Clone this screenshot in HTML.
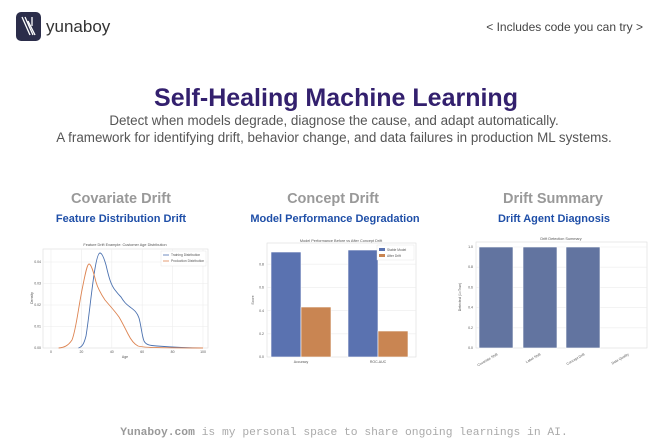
<!DOCTYPE html>
<html><head><meta charset="utf-8"><style>
html,body{margin:0;padding:0;background:#fff;}
body{width:670px;height:445px;overflow:hidden;position:relative;font-family:"Liberation Sans",sans-serif;}
</style></head><body>
<svg width="670" height="445" viewBox="0 0 670 445" xmlns="http://www.w3.org/2000/svg" style="position:absolute;left:0;top:0">
<rect x="16" y="12" width="25" height="29" rx="5" fill="#2b2d4a"/>
<g stroke="#fff" stroke-width="1.3">
<line x1="22" y1="17" x2="30" y2="35"/><line x1="25" y1="17" x2="33" y2="35"/><line x1="28" y1="21" x2="35" y2="35"/><line x1="32" y1="17" x2="32" y2="26"/>
</g>
<text x="46" y="32" font-size="17" fill="#333">yunaboy</text>
<text x="643" y="31" font-size="12" fill="#444" text-anchor="end">&lt; Includes code you can try &gt;</text>
<text x="336" y="106" font-size="25" font-weight="bold" fill="#33206e" text-anchor="middle">Self-Healing Machine Learning</text>
<text x="334" y="125" font-size="13.4" fill="#555" text-anchor="middle">Detect when models degrade, diagnose the cause, and adapt automatically.</text>
<text x="334" y="142" font-size="13.4" fill="#555" text-anchor="middle">A framework for identifying drift, behavior change, and data failures in production ML systems.</text>
<g font-size="14.5" font-weight="bold" fill="#999" text-anchor="middle">
<text x="121" y="203">Covariate Drift</text><text x="333" y="203">Concept Drift</text><text x="553" y="203">Drift Summary</text>
</g>
<g font-size="11" font-weight="bold" fill="#1f4fa8" text-anchor="middle">
<text x="121" y="222">Feature Distribution Drift</text><text x="335" y="222">Model Performance Degradation</text><text x="554" y="222">Drift Agent Diagnosis</text>
</g>
<!-- chart 1 -->
<text x="125" y="246" font-size="3.8" fill="#555" text-anchor="middle">Feature Drift Example: Customer Age Distribution</text>
<rect x="43" y="249" width="165" height="99" fill="#fff" stroke="#ddd" stroke-width="0.6"/>
<g stroke="#ececec" stroke-width="0.6">
<line x1="51" y1="249" x2="51" y2="348"/><line x1="81.4" y1="249" x2="81.4" y2="348"/><line x1="111.8" y1="249" x2="111.8" y2="348"/><line x1="142.2" y1="249" x2="142.2" y2="348"/><line x1="172.6" y1="249" x2="172.6" y2="348"/><line x1="203" y1="249" x2="203" y2="348"/>
<line x1="43" y1="326.5" x2="208" y2="326.5"/><line x1="43" y1="305" x2="208" y2="305"/><line x1="43" y1="283.5" x2="208" y2="283.5"/><line x1="43" y1="262" x2="208" y2="262"/>
</g>
<path fill="none" stroke="#4c72b0" stroke-width="0.9" d="M78.4,348 C82,347 84,344 86,336 C89,318 92,285 95.1,268 C97,257 98.5,253 100,253 C102,253 104,258 106,265 C109,278 111,285 115,290 C118,294 119,295 121,297 C124,302 126,304 130,307 C134,310 137,312 139,318 C141,325 142,336 144,341 C146,345 150,345.5 157,346 C170,347 185,348 203,348"/>
<path fill="none" stroke="#dd8452" stroke-width="0.9" d="M58.6,348 C64,347.5 68,346 72,340 C76,330 78,310 82,290 C85,275 87,264 89,264 C91,264 93,270 96,282 C98,289 101,294 105,300 C110,306 114,310 119,317 C122,322 125,328 128,334 C131,340 134,344 138,346 C142,347 150,347.5 157,347.6 C175,348 190,348 203,348"/>
<rect x="161" y="251" width="45" height="15" fill="#fff" stroke="#e0e0e0" stroke-width="0.4"/>
<line x1="163" y1="255" x2="169" y2="255" stroke="#4c72b0" stroke-width="0.8"/><line x1="163" y1="261" x2="169" y2="261" stroke="#dd8452" stroke-width="0.8"/>
<g font-size="3.3" fill="#555"><text x="171" y="256">Training Distribution</text><text x="171" y="262">Production Distribution</text></g>
<g font-size="3.5" fill="#555" text-anchor="middle">
<text x="51" y="353">0</text><text x="81.4" y="353">20</text><text x="111.8" y="353">40</text><text x="142.2" y="353">60</text><text x="172.6" y="353">80</text><text x="203" y="353">100</text>
<text x="125" y="358">Age</text></g>
<g font-size="3.5" fill="#555" text-anchor="end">
<text x="41" y="349">0.00</text><text x="41" y="327.5">0.01</text><text x="41" y="306">0.02</text><text x="41" y="284.5">0.03</text><text x="41" y="263">0.04</text></g>
<text x="33" y="298" font-size="3.5" fill="#555" text-anchor="middle" transform="rotate(-90 33 298)">Density</text>
<!-- chart 2 -->
<text x="341" y="242" font-size="3.8" fill="#555" text-anchor="middle">Model Performance Before vs After Concept Drift</text>
<rect x="267" y="243" width="149" height="114" fill="#fff" stroke="#ddd" stroke-width="0.6"/>
<g stroke="#ececec" stroke-width="0.6">
<line x1="267" y1="333.8" x2="416" y2="333.8"/><line x1="267" y1="310.6" x2="416" y2="310.6"/><line x1="267" y1="287.4" x2="416" y2="287.4"/><line x1="267" y1="264.2" x2="416" y2="264.2"/>
</g>
<g stroke="#fff" stroke-width="0.6">
<rect x="271" y="252" width="30" height="105" fill="#5a72b0"/>
<rect x="301" y="307" width="30" height="50" fill="#c98552"/>
<rect x="348" y="250" width="30" height="107" fill="#5a72b0"/>
<rect x="378" y="331" width="30" height="26" fill="#c98552"/>
</g>
<rect x="377" y="245" width="37" height="15" fill="#fff" stroke="#e0e0e0" stroke-width="0.4"/>
<rect x="379" y="248" width="6" height="3" fill="#5a72b0"/><rect x="379" y="254" width="6" height="3" fill="#c98552"/>
<g font-size="3.3" fill="#555"><text x="387" y="251">Stable Model</text><text x="387" y="257">After Drift</text></g>
<g font-size="3.5" fill="#555" text-anchor="end">
<text x="264" y="358">0.0</text><text x="264" y="335">0.2</text><text x="264" y="312">0.4</text><text x="264" y="288.5">0.6</text><text x="264" y="265.5">0.8</text></g>
<g font-size="3.5" fill="#555" text-anchor="middle"><text x="301" y="363">Accuracy</text><text x="378" y="363">ROC-AUC</text></g>
<text x="254" y="300" font-size="3.5" fill="#555" text-anchor="middle" transform="rotate(-90 254 300)">Score</text>
<!-- chart 3 -->
<text x="561" y="240" font-size="3.8" fill="#555" text-anchor="middle">Drift Detection Summary</text>
<rect x="476" y="242" width="171" height="106" fill="#fff" stroke="#ddd" stroke-width="0.6"/>
<g stroke="#ececec" stroke-width="0.6">
<line x1="476" y1="327.8" x2="647" y2="327.8"/><line x1="476" y1="307.6" x2="647" y2="307.6"/><line x1="476" y1="287.4" x2="647" y2="287.4"/><line x1="476" y1="267.2" x2="647" y2="267.2"/><line x1="476" y1="247" x2="647" y2="247"/>
</g>
<g fill="#6274a0" stroke="#fff" stroke-width="0.6">
<rect x="479" y="247" width="34" height="101"/><rect x="523" y="247" width="34" height="101"/><rect x="566" y="247" width="34" height="101"/>
</g>
<g font-size="3.5" fill="#555" text-anchor="end">
<text x="473" y="349">0.0</text><text x="473" y="329">0.2</text><text x="473" y="308.6">0.4</text><text x="473" y="288.4">0.6</text><text x="473" y="268.2">0.8</text><text x="473" y="248">1.0</text></g>
<g font-size="3.5" fill="#555" text-anchor="end">
<text transform="translate(498 355) rotate(-30)">Covariate Shift</text>
<text transform="translate(541 355) rotate(-30)">Label Shift</text>
<text transform="translate(585 355) rotate(-30)">Concept Drift</text>
<text transform="translate(629 355) rotate(-30)">Data Quality</text></g>
<text x="461" y="297" font-size="3.5" fill="#555" text-anchor="middle" transform="rotate(-90 461 297)">Detected (1=True)</text>
<text x="344" y="435" font-size="11.3" fill="#aaa" text-anchor="middle" font-family="Liberation Mono, monospace"><tspan font-weight="bold" fill="#999">Yunaboy.com</tspan> is my personal space to share ongoing learnings in AI.</text>
</svg>
</body></html>
